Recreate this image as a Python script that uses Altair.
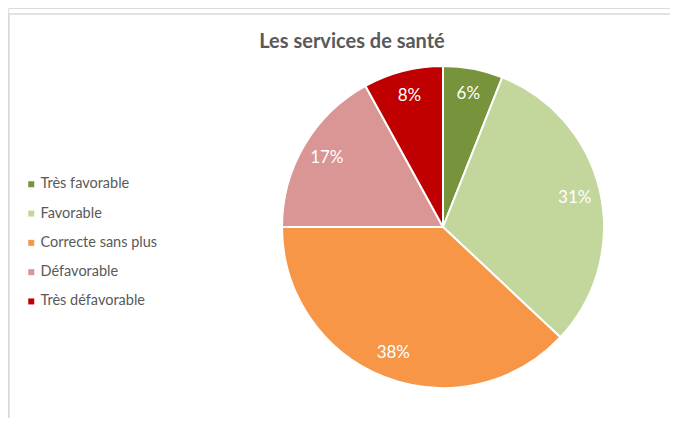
import altair as alt
import pandas as pd

title_text = "Les services de santé"
categories = ["Très favorable", "Favorable", "Correcte sans plus", "Défavorable", "Très défavorable"]
values = [6, 31, 38, 17, 8]
labels = ["6%", "31%", "38%", "17%", "8%"]
colors = ["#77933C", "#C3D69B", "#F79646", "#D99694", "#C00000"]

df = pd.DataFrame({
    "cat": categories,
    "val": values,
    "lab": labels,
    "ord": list(range(len(categories))),
})

W, H = 662, 410
CX, CY, R = 435, 219, 161
FONT = "Lato"

base = alt.Chart(df).encode(
    theta=alt.Theta("val:Q", stack=True),
    order=alt.Order("ord:Q", sort="ascending"),
)

pie = base.mark_arc(outerRadius=R, stroke="white", strokeWidth=2).encode(
    x=alt.value(CX),
    y=alt.value(CY),
    color=alt.Color(
        "cat:N",
        scale=alt.Scale(domain=categories, range=colors),
        sort=categories,
        legend=alt.Legend(
            title=None,
            orient="none",
            legendX=16,
            legendY=169,
            symbolType="square",
            symbolSize=36,
            symbolStrokeWidth=0,
            labelFont=FONT,
            labelFontSize=14.5,
            labelColor="#595959",
            labelOffset=2,
            rowPadding=14.3,
            padding=0,
        ),
    ),
)

text = base.mark_text(radius=135, font=FONT, fontSize=17, color="white").encode(
    x=alt.value(CX),
    y=alt.value(CY),
    text="lab:N",
)

title = alt.Chart(pd.DataFrame({"t": [title_text]})).mark_text(
    font=FONT, fontSize=20, fontWeight="bold", color="#595959", align="center", baseline="middle"
).encode(text="t:N", x=alt.value(344), y=alt.value(34))

frame_top = alt.Chart(pd.DataFrame({"a": [0]})).mark_rule(color="#D9D9D9", strokeWidth=1.5).encode(
    x=alt.value(1), x2=alt.value(W), y=alt.value(6)
)
frame_left = alt.Chart(pd.DataFrame({"a": [0]})).mark_rule(color="#D9D9D9", strokeWidth=1.5).encode(
    x=alt.value(1), y=alt.value(6), y2=alt.value(H)
)

chart = alt.layer(frame_top, frame_left, pie, text, title).properties(
    width=W, height=H, autosize=alt.AutoSizeParams(type="none"), padding=0
).configure_view(strokeOpacity=0, strokeWidth=0).configure(background="white")

chart.save("out.html", embed_options={"renderer": "svg", "actions": False})
